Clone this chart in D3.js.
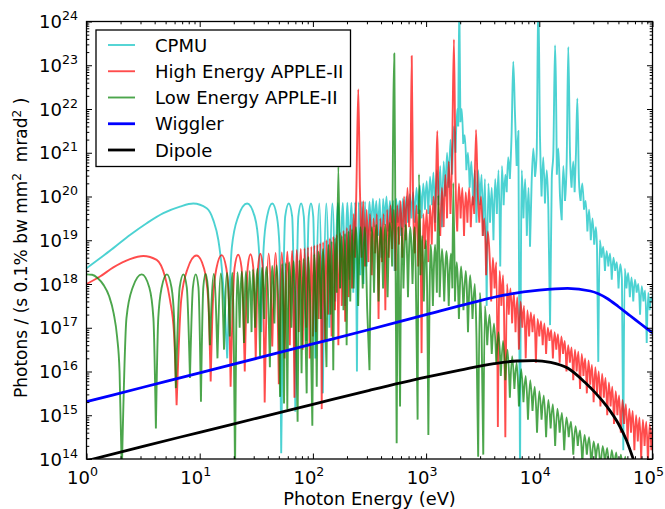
<!DOCTYPE html>
<html>
<head>
<meta charset="utf-8">
<script src="https://cdn.jsdelivr.net/npm/d3@7"></script>
<style>
  body { margin: 0; background: #fff; }
  svg { display: block; }
  text { font-family: "DejaVu Sans", sans-serif; fill: #000; }
</style>
</head>
<body>
<svg id="chart" width="665" height="509"></svg>
<script>
// Axis decades (powers of ten)
const xDecades = [0, 1, 2, 3, 4, 5];
const yDecades = [14, 15, 16, 17, 18, 19, 20, 21, 22, 23, 24];

const seriesNames = ["CPMU", "High Energy APPLE-II", "Low Energy APPLE-II", "Wiggler", "Dipole"];

// Each point: [log10 photon energy (eV), log10 brightness]
const cpmu = [
  [0.000,18.36],[0.119,18.59],[0.237,18.82],[0.384,19.12],[0.532,19.39],[0.679,19.62],[0.826,19.77],[0.943,19.84],
  [1.062,19.73],[1.120,19.46],[1.165,19.0],[1.194,18.4],[1.224,17.33],[1.243,16.3],
  [1.284,18.84],[1.340,19.54],[1.419,19.84],[1.486,19.54],[1.522,18.84],[1.544,16.9],
  [1.565,18.84],[1.595,19.54],[1.641,19.84],[1.682,19.54],[1.705,18.84],[1.720,14.13],
  [1.755,19.54],[1.787,19.84],[1.817,19.54],[1.845,15.08],
  [1.871,19.54],[1.896,19.84],[1.920,19.54],[1.942,16.7],
  [1.963,19.54],[1.983,19.84],[2.003,19.54],[2.021,16.3],
  [2.056,19.84],[2.088,15.5],[2.118,19.84],[2.146,17.0],[2.172,19.84],[2.197,17.6],
  [2.221,19.85],[2.243,17.9],[2.264,19.85],[2.284,17.5],[2.304,19.86],[2.322,18.1],
  [2.340,19.86],[2.357,17.8],[2.373,19.87],[2.389,16.0],[2.404,19.87],[2.419,18.2],
  [2.433,19.88],[2.447,18.0],[2.461,19.88],[2.474,18.4],
  [2.490,19.3],[2.500,19.88],[2.515,19.2],[2.530,19.95],[2.545,19.3],[2.560,19.9],[2.575,19.1],[2.590,19.95],
  [2.605,18.6],[2.620,19.95],[2.635,19.35],[2.650,20.0],[2.665,19.2],[2.680,19.9],[2.695,19.4],[2.710,19.9],
  [2.722,18.3],[2.735,19.95],[2.750,19.4],[2.765,19.9],[2.780,19.1],[2.795,19.95],[2.810,19.3],[2.825,20.0],
  [2.840,19.4],[2.855,20.05],[2.870,19.5],[2.885,20.1],[2.900,19.4],[2.915,20.2],[2.930,19.6],[2.945,20.25],
  [2.960,19.5],[2.975,20.3],[2.990,19.7],[3.005,20.35],[3.020,19.6],[3.035,20.45],[3.050,19.8],[3.065,20.55],
  [3.080,19.4],[3.095,20.6],[3.110,19.8],[3.125,20.7],[3.140,19.3],[3.155,20.8],[3.170,20.0],[3.185,21.0],
  [3.200,20.2],[3.215,21.3],[3.230,20.5],[3.245,21.6],[3.260,21.0],[3.275,22.0],[3.284,21.6],[3.293,24.6],
  [3.303,21.7],[3.315,22.0],[3.328,21.2],[3.342,21.4],[3.356,20.6],[3.370,21.0],[3.385,20.2],[3.400,20.8],
  [3.415,19.8],[3.430,20.6],[3.445,19.4],[3.460,20.6],[3.475,19.8],[3.490,20.5],[3.505,19.1],[3.520,20.4],
  [3.535,17.5],[3.550,20.3],[3.565,19.4],[3.580,20.2],[3.595,19.0],[3.610,20.4],[3.625,19.6],[3.640,20.6],
  [3.655,18.4],[3.670,20.7],[3.685,19.8],[3.700,20.5],[3.712,20.1],[3.725,20.9],[3.740,20.4],[3.755,21.4],
  [3.770,23.08],[3.785,21.9],[3.800,20.7],[3.815,21.5],[3.830,13.5],[3.845,20.6],[3.860,19.5],[3.875,20.4],
  [3.890,19.1],[3.905,20.2],[3.918,18.85],[3.932,20.3],[3.947,21.1],[3.962,20.45],[3.977,21.0],[3.991,24.6],
  [4.006,21.37],[4.020,20.0],[4.035,20.9],[4.050,19.84],[4.066,20.6],[4.080,19.7],[4.095,17.06],[4.110,20.4],
  [4.124,21.0],[4.139,23.46],[4.155,20.5],[4.168,21.1],[4.183,20.0],[4.198,19.46],[4.212,20.7],[4.227,19.9],
  [4.242,20.8],[4.256,23.42],[4.271,21.0],[4.285,20.2],[4.300,20.8],[4.312,20.1],[4.324,21.0],[4.336,22.24],
  [4.350,20.38],[4.365,19.9],[4.380,20.3],[4.395,19.7],[4.410,19.9],[4.425,19.2],[4.440,19.7],[4.455,19.0],
  [4.470,19.5],[4.485,18.9],[4.500,19.3],[4.510,18.8],[4.521,16.22],[4.535,19.0],[4.550,18.6],[4.565,18.85],
  [4.580,18.3],[4.595,18.75],[4.610,18.4],[4.625,18.7],[4.640,18.1],[4.655,18.6],[4.670,18.3],[4.685,18.5],
  [4.700,17.9],[4.715,18.45],[4.730,18.1],[4.742,14.2],[4.755,18.35],[4.770,17.9],[4.785,18.25],[4.800,17.7],
  [4.815,18.15],[4.830,17.6],[4.845,18.1],[4.860,17.8],[4.875,18.0],[4.890,17.3],[4.905,17.95],[4.920,17.6],
  [4.935,17.85],[4.949,16.65],[4.962,17.8],[4.975,17.4],[4.988,17.7],[5.000,17.6]
];

const heApple = [
  [0.000,18.00],[0.119,18.17],[0.237,18.38],[0.384,18.57],[0.502,18.64],[0.620,18.55],[0.693,18.17],[0.738,17.63],
  [0.773,16.88],[0.796,15.23],
  [0.837,17.65],[0.893,18.35],[0.972,18.65],[1.039,18.35],[1.075,17.65],[1.097,15.77],
  [1.118,17.66],[1.148,18.36],[1.194,18.66],[1.235,18.36],[1.258,17.66],[1.273,15.65],
  [1.308,18.37],[1.340,18.67],[1.370,18.37],[1.398,16.0],
  [1.424,18.38],[1.449,18.68],[1.473,18.38],[1.495,16.26],
  [1.516,18.39],[1.536,18.69],[1.556,18.39],[1.574,15.29],
  [1.609,18.70],[1.641,16.57],[1.671,18.71],[1.699,15.71],[1.725,18.72],[1.750,16.3],
  [1.774,18.74],[1.796,16.6],[1.817,18.76],[1.837,15.4],[1.857,18.78],[1.875,16.9],
  [1.893,18.80],[1.910,16.5],[1.926,18.82],[1.942,17.0],[1.957,18.84],[1.972,16.3],
  [1.986,18.86],[2.000,16.8],
  [2.013,18.88],[2.026,16.9],[2.040,18.9],[2.051,17.2],[2.064,18.93],[2.078,15.14],[2.090,18.96],[2.105,16.7],
  [2.120,19.0],[2.135,17.3],[2.150,19.04],[2.165,16.8],[2.180,19.08],[2.195,17.4],[2.210,19.12],[2.225,16.6],
  [2.240,19.17],[2.255,17.5],[2.270,19.22],[2.285,17.14],[2.300,19.28],[2.315,17.7],[2.330,19.35],[2.345,17.9],
  [2.360,19.6],[2.372,18.6],[2.385,20.3],[2.401,22.45],[2.415,20.2],[2.430,18.6],[2.445,19.9],[2.460,18.4],
  [2.475,19.7],[2.490,18.5],[2.505,19.6],[2.520,18.2],[2.535,19.5],[2.550,18.7],[2.565,19.6],[2.580,17.2],
  [2.595,19.5],[2.610,18.5],[2.625,19.6],[2.640,17.4],[2.655,19.7],[2.670,18.6],[2.685,19.8],[2.700,18.8],
  [2.715,19.7],[2.730,18.3],[2.745,19.8],[2.760,18.9],[2.775,19.9],[2.790,18.6],[2.805,20.0],[2.820,19.0],
  [2.835,20.2],[2.850,19.3],[2.862,20.4],[2.873,23.21],[2.885,19.9],[2.900,18.7],[2.915,19.8],[2.930,18.4],
  [2.945,19.7],[2.960,16.42],[2.975,19.6],[2.990,18.8],[3.005,19.7],[3.020,18.5],[3.035,19.8],[3.050,18.9],
  [3.065,20.0],[3.080,19.2],[3.090,20.6],[3.099,21.5],[3.110,19.9],[3.125,19.1],[3.140,20.2],[3.155,19.3],
  [3.170,20.5],[3.185,19.5],[3.200,20.8],[3.215,19.6],[3.230,21.0],[3.246,23.59],[3.260,20.4],[3.275,19.2],
  [3.290,20.3],[3.305,19.5],[3.320,20.2],[3.335,19.1],[3.350,20.1],[3.365,19.4],[3.380,20.2],[3.395,19.3],
  [3.410,20.0],[3.425,19.6],[3.441,21.52],[3.455,20.2],[3.470,19.4],[3.485,20.0],[3.500,19.1],[3.515,19.5],
  [3.530,18.2],[3.545,19.2],[3.560,18.7],[3.575,17.6],[3.590,18.6],[3.605,17.9],[3.620,18.5],[3.634,14.73],
  [3.650,18.3],[3.665,17.5],[3.680,18.2],[3.700,14.5],[3.715,18.0],[3.730,17.3],[3.745,17.9],[3.760,17.1],
  [3.775,17.8],[3.790,16.9],[3.805,17.7],[3.820,16.5],[3.835,17.6],[3.850,17.0],[3.865,17.5],[3.880,16.3],
  [3.895,17.4],[3.910,16.8],[3.925,17.35],[3.940,16.9],[3.955,17.3],[3.970,16.2],[3.985,17.2],[4.000,16.8],
  [4.015,17.15],[4.030,16.6],[4.045,17.1],[4.060,16.4],[4.075,17.0],[4.090,16.7],[4.105,16.95],[4.120,16.3],
  [4.135,16.9],[4.150,16.5],[4.165,16.85],[4.180,16.2],[4.195,16.8],[4.210,16.4],[4.225,16.7],[4.240,16.0],
  [4.255,16.6],[4.270,16.2],[4.285,16.55],[4.300,15.8],[4.315,16.5],[4.330,16.0],[4.345,16.45],[4.360,15.6],
  [4.375,16.4],[4.390,15.9],[4.405,16.3],[4.420,15.5],[4.435,16.25],[4.450,15.7],[4.465,16.15],[4.480,15.3],
  [4.495,16.1],[4.510,15.5],[4.525,16.0],[4.540,15.2],[4.555,15.95],[4.570,15.4],[4.585,15.85],[4.600,15.0],
  [4.615,15.75],[4.630,15.2],[4.645,15.65],[4.660,14.8],[4.675,15.55],[4.690,15.0],[4.705,15.45],[4.720,14.6],
  [4.735,15.35],[4.750,14.8],[4.765,15.25],[4.780,14.4],[4.795,15.15],[4.810,14.6],[4.825,15.1],[4.840,14.2],
  [4.855,15.0],[4.870,14.4],[4.885,14.95],[4.900,14.0],[4.915,14.9],[4.930,14.3],[4.945,14.85],[4.960,13.9],
  [4.975,14.8],[4.990,14.2],[5.000,14.7]
];

const leApple = [
  [0.000,18.22],[0.050,18.21],[0.100,18.13],[0.150,17.98],[0.200,17.72],[0.240,17.33],[0.270,16.8],[0.292,16.0],[0.312,13.7],
  [0.353,17.22],[0.408,17.92],[0.488,18.22],[0.555,17.92],[0.591,17.22],[0.613,14.7],
  [0.634,17.22],[0.664,17.92],[0.710,18.22],[0.751,17.92],[0.774,17.22],[0.789,15.62],
  [0.823,17.92],[0.856,18.22],[0.886,17.92],[0.914,15.85],
  [0.940,17.92],[0.965,18.22],[0.989,17.92],[1.011,15.31],
  [1.032,17.93],[1.052,18.23],[1.072,17.93],[1.090,16.6],
  [1.125,18.23],[1.157,16.3],[1.187,18.24],[1.215,16.5],[1.241,18.25],[1.266,16.8],
  [1.289,18.26],[1.312,13.7],[1.333,18.27],[1.353,17.0],[1.372,18.28],[1.391,16.65],
  [1.409,18.29],[1.426,17.1],[1.442,18.30],[1.458,16.9],
  [1.470,18.33],[1.490,17.0],[1.510,18.35],[1.533,16.34],[1.550,18.37],[1.570,17.2],[1.590,18.39],[1.620,16.1],
  [1.640,18.41],[1.660,17.1],[1.680,18.43],[1.710,15.42],[1.728,18.46],[1.745,15.27],[1.760,18.48],[1.774,15.14],
  [1.790,18.5],[1.810,17.0],[1.830,18.52],[1.848,17.3],[1.865,14.85],[1.882,18.54],[1.900,15.96],[1.918,18.57],
  [1.932,17.2],[1.945,15.5],[1.960,18.62],[1.978,17.4],[1.995,14.76],[2.012,18.68],[2.034,15.65],[2.050,18.74],
  [2.070,17.2],[2.090,18.8],[2.105,17.5],[2.120,16.1],[2.138,18.9],[2.155,17.3],[2.165,18.98],[2.180,16.03],
  [2.195,19.05],[2.210,17.8],[2.225,20.68],[2.240,17.9],[2.255,19.1],[2.270,17.4],[2.284,19.15],[2.298,16.6],
  [2.315,19.2],[2.330,17.6],[2.345,19.25],[2.360,17.9],[2.380,19.3],[2.400,17.5],[2.420,19.3],[2.440,17.9],
  [2.460,19.3],[2.480,17.4],[2.500,16.03],[2.520,19.3],[2.540,17.8],[2.560,19.35],[2.580,17.6],[2.600,19.3],
  [2.620,17.9],[2.640,19.35],[2.660,17.7],[2.680,19.4],[2.700,18.4],[2.719,23.27],[2.730,18.6],[2.740,14.36],
  [2.755,19.3],[2.770,15.2],[2.785,19.3],[2.800,17.9],[2.820,19.35],[2.840,17.7],[2.860,19.3],[2.880,18.0],
  [2.900,19.3],[2.912,17.6],[2.925,14.9],[2.937,20.51],[2.950,18.2],[2.965,19.1],[2.980,17.6],[3.000,19.0],
  [3.020,14.55],[3.040,18.9],[3.060,17.5],[3.080,18.9],[3.095,17.8],[3.108,20.03],[3.120,17.7],[3.140,18.8],
  [3.160,17.6],[3.180,18.75],[3.200,17.5],[3.220,18.7],[3.232,17.9],[3.240,20.31],[3.255,17.6],[3.270,18.5],
  [3.290,17.2],[3.310,18.4],[3.330,17.4],[3.350,18.3],[3.370,16.9],[3.390,18.2],[3.410,17.2],[3.430,18.0],
  [3.445,16.8],[3.460,14.05],[3.475,17.8],[3.490,16.9],[3.505,14.1],[3.520,17.5],[3.540,16.6],[3.560,17.3],
  [3.580,16.4],[3.600,17.1],[3.620,16.2],[3.640,16.9],[3.660,15.9],[3.680,16.7],[3.700,15.8],[3.720,16.5],
  [3.740,15.4],[3.760,16.35],[3.780,15.6],[3.800,16.2],[3.820,15.2],[3.840,16.05],[3.860,15.3],[3.880,15.9],
  [3.900,14.9],[3.920,15.8],[3.940,15.1],[3.960,15.65],[3.980,14.6],[4.000,15.55],[4.020,14.9],[4.040,15.45],
  [4.060,14.5],[4.080,15.35],[4.100,14.7],[4.120,15.25],[4.140,14.3],[4.160,15.15],[4.180,14.6],[4.200,15.05],
  [4.220,14.2],[4.240,14.95],[4.260,14.5],[4.280,14.85],[4.300,14.1],[4.320,14.75],[4.340,14.3],[4.360,14.65],
  [4.380,13.9],[4.400,14.55],[4.420,14.1],[4.440,14.5],[4.460,13.8],[4.480,14.4],[4.500,14.0],[4.520,14.35],
  [4.540,13.7],[4.560,14.3],[4.580,13.9],[4.600,14.25],[4.620,13.6],[4.640,14.2],[4.660,13.8],[4.680,14.15],
  [4.700,13.5],[4.720,14.1],[4.740,13.7],[4.760,14.05],[4.780,13.4],[4.800,13.95],[4.820,13.5],[4.840,13.9],
  [4.860,13.3]
];

const wiggler = [
  [0.0,15.31],[0.5,15.64],[1.0,15.97],[1.5,16.30],[2.0,16.63],[2.5,16.96],[3.0,17.30],[3.4,17.57],
  [3.7,17.75],[4.0,17.86],[4.25,17.90],[4.45,17.84],[4.6,17.67],[4.7,17.48],[4.8,17.28],[4.9,17.08],[5.0,16.88]
];

const dipole = [
  [0.0,13.96],[0.5,14.29],[1.0,14.61],[1.5,14.93],[2.0,15.25],[2.5,15.57],[3.0,15.87],[3.3,16.03],
  [3.6,16.18],[3.8,16.24],[3.95,16.25],[4.1,16.21],[4.25,16.08],[4.4,15.76],[4.5,15.5],[4.6,15.19],
  [4.7,14.8],[4.77,14.43],[4.83,14.0],[4.87,13.7]
];

const colors = ["#00bfbf", "#ff0000", "#008000", "#0000ff", "#000000"];
const opacities = [0.7, 0.7, 0.7, 1, 1];
const widths = [1.9, 1.9, 1.9, 2.8, 2.8];

const svg = d3.select("#chart");
const plotLeft = 86.5, plotRight = 652.5, plotTop = 21.5, plotBottom = 459;

const x = d3.scaleLog().domain([1, 1e5]).range([plotLeft, plotRight]);
const y = d3.scaleLog().domain([1e14, 1e24]).range([plotBottom, plotTop]);

svg.append("defs").append("clipPath").attr("id", "plot-clip")
  .append("rect").attr("x", plotLeft).attr("y", plotTop)
  .attr("width", plotRight - plotLeft).attr("height", plotBottom - plotTop);

const plot = svg.append("g").attr("clip-path", "url(#plot-clip)");

const line = d3.line()
  .x(d => x(Math.pow(10, d[0])))
  .y(d => y(Math.pow(10, d[1])))
  .curve(d3.curveMonotoneX);

// Undulator spectra: split at each local minimum so nulls stay sharp
function splitAtMinima(pts) {
  const segs = [];
  let cur = [pts[0]];
  for (let i = 1; i < pts.length; i++) {
    cur.push(pts[i]);
    if (i < pts.length - 1 && pts[i][1] < pts[i - 1][1] && pts[i][1] < pts[i + 1][1]) {
      segs.push(cur);
      cur = [pts[i]];
    }
  }
  segs.push(cur);
  return segs;
}

const allSeries = [cpmu, heApple, leApple, wiggler, dipole];
allSeries.forEach((pts, i) => {
  const d = i < 3 ? splitAtMinima(pts).map(s => line(s)).join("") : line(pts);
  plot.append("path")
    .attr("d", d)
    .attr("fill", "none")
    .attr("stroke", colors[i])
    .attr("stroke-opacity", opacities[i])
    .attr("stroke-width", widths[i])
    .attr("stroke-linejoin", "round");
});

// Ticks (pointing inward on all four sides)
const xMajor = xDecades.map(e => Math.pow(10, e));
const yMajor = yDecades.map(e => Math.pow(10, e));
const xMinor = [], yMinor = [];
xDecades.slice(0, -1).forEach(e => { for (let m = 2; m <= 9; m++) xMinor.push(m * Math.pow(10, e)); });
yDecades.slice(0, -1).forEach(e => { for (let m = 2; m <= 9; m++) yMinor.push(m * Math.pow(10, e)); });

function addAxis(axisFn, scale, values, size, transform) {
  const g = svg.append("g").attr("transform", transform)
    .call(axisFn(scale).tickValues(values).tickSizeInner(-size).tickSizeOuter(0).tickFormat(() => ""));
  g.select(".domain").remove();
  g.selectAll(".tick line").attr("stroke", "#000").attr("stroke-width", 1);
  return g;
}
addAxis(d3.axisBottom, x, xMajor, 5.5, `translate(0,${plotBottom})`);
addAxis(d3.axisBottom, x, xMinor, 2.8, `translate(0,${plotBottom})`);
addAxis(d3.axisTop, x, xMajor, 5.5, `translate(0,${plotTop})`);
addAxis(d3.axisTop, x, xMinor, 2.8, `translate(0,${plotTop})`);
addAxis(d3.axisLeft, y, yMajor, 5.5, `translate(${plotLeft},0)`);
addAxis(d3.axisLeft, y, yMinor, 2.8, `translate(${plotLeft},0)`);
addAxis(d3.axisRight, y, yMajor, 5.5, `translate(${plotRight},0)`);
addAxis(d3.axisRight, y, yMinor, 2.8, `translate(${plotRight},0)`);

// Frame
svg.append("rect").attr("x", plotLeft).attr("y", plotTop)
  .attr("width", plotRight - plotLeft).attr("height", plotBottom - plotTop)
  .attr("fill", "none").attr("stroke", "#000").attr("stroke-width", 1.3);

// Tick labels as 10 with a superscript exponent
xDecades.forEach(e => {
  const t = svg.append("text").attr("x", x(Math.pow(10, e)) - 4).attr("y", 483.5)
    .attr("text-anchor", "middle").style("font-size", "18px");
  t.append("tspan").text("10");
  t.append("tspan").attr("dy", -8).style("font-size", "12.6px").text(e);
});
yDecades.forEach(e => {
  const t = svg.append("text").attr("x", 78).attr("y", y(Math.pow(10, e)) + 6.5)
    .attr("text-anchor", "end").style("font-size", "18px");
  t.append("tspan").text("10");
  t.append("tspan").attr("dy", -8).style("font-size", "12.6px").text(e);
});

// Axis titles
svg.append("text").attr("x", (plotLeft + plotRight) / 2).attr("y", 504.5)
  .attr("text-anchor", "middle").style("font-size", "17.8px").text("Photon Energy (eV)");

const yl = svg.append("text").attr("transform", "translate(27,398) rotate(-90)")
  .attr("text-anchor", "start").style("font-size", "17px");
yl.append("tspan").text("Photons / (s 0.1% bw mm");
yl.append("tspan").attr("dy", -6).style("font-size", "12px").text("2");
yl.append("tspan").attr("dy", 6).text("\u00a0\u00a0mrad");
yl.append("tspan").attr("dy", -6).style("font-size", "12px").text("2");
yl.append("tspan").attr("dy", 6).text("\u00a0)");

// Legend
const legend = svg.append("g");
legend.append("rect").attr("x", 96).attr("y", 30).attr("width", 254.5).attr("height", 136.5)
  .attr("fill", "#fff").attr("stroke", "#000").attr("stroke-width", 1.3);
seriesNames.forEach((name, i) => {
  const cy = 45 + i * 26.25;
  legend.append("line").attr("x1", 108).attr("x2", 135).attr("y1", cy).attr("y2", cy)
    .attr("stroke", colors[i]).attr("stroke-opacity", opacities[i]).attr("stroke-width", widths[i]);
  legend.append("text").attr("x", 155).attr("y", cy + 6.5).style("font-size", "18px").text(name);
});
</script>
</body>
</html>
